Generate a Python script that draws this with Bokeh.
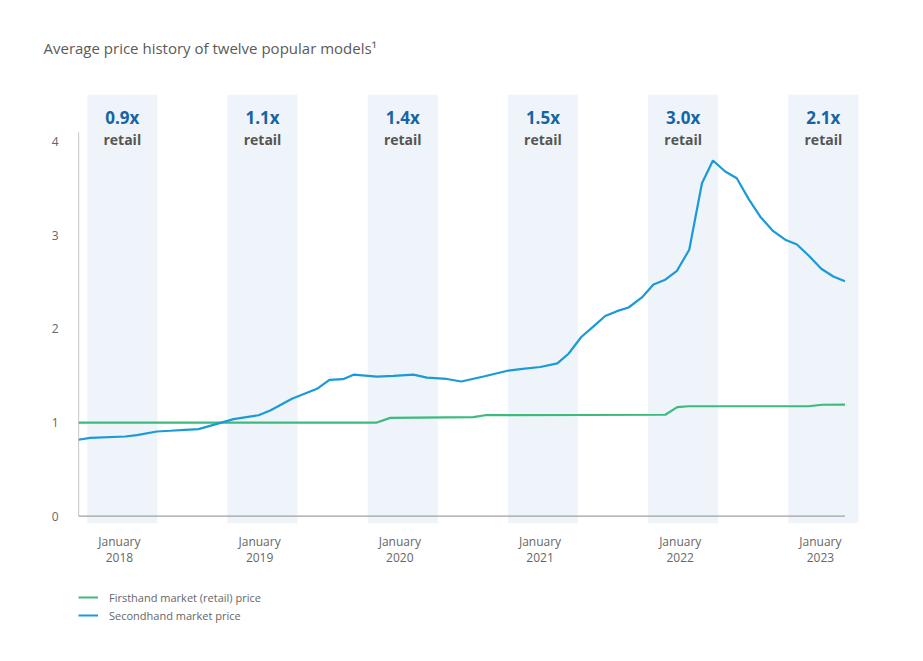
from bokeh.plotting import figure
from bokeh.layouts import column
from bokeh.models import FixedTicker, Legend, LegendItem, LinearAxis
from bokeh.core.properties import value
from bokeh.embed import file_html
from bokeh.resources import INLINE

# ---- data -------------------------------------------------------------
years = ["2018", "2019", "2020", "2021", "2022", "2023"]
multiples = ["0.9x", "1.1x", "1.4x", "1.5x", "3.0x", "2.1x"]
y_ticks = [0, 1, 2, 3, 4]
series_names = ["Firsthand market (retail) price", "Secondhand market price"]

# x = months since first observation
second_x = [0, 1.0, 4.0, 5.0, 6.71, 7.85, 9.13, 10.27, 11.85, 13.27, 15.41, 16.41,
            18.27, 20.41, 21.48, 22.63, 23.54, 25.54, 26.96, 28.67, 29.82, 31.53,
            32.76, 34.67, 36.81, 37.81, 39.52, 40.98, 41.94, 43.03, 44.08, 45.08,
            46.08, 47.08, 48.22, 49.21, 50.22, 51.22, 52.27, 53.36, 54.30, 55.35,
            56.34, 57.35, 58.39, 59.46, 60.49, 61.49, 62.53, 63.57, 64.60, 65.60]
second_y = [0.816, 0.837, 0.851, 0.865, 0.904, 0.912, 0.922, 0.929, 0.986, 1.036, 1.078, 1.128,
            1.253, 1.360, 1.456, 1.463, 1.511, 1.491, 1.499, 1.511, 1.479, 1.465,
            1.438, 1.491, 1.555, 1.571, 1.593, 1.632, 1.734, 1.913, 2.027, 2.137,
            2.189, 2.228, 2.335, 2.474, 2.525, 2.620, 2.844, 3.555, 3.797, 3.680,
            3.608, 3.388, 3.191, 3.043, 2.952, 2.901, 2.778, 2.642, 2.559, 2.508]

first_x = [0, 25.54, 26.68, 33.78, 34.81, 50.22, 51.25, 52.19, 62.46, 63.66, 65.60]
first_y = [1.0, 1.0, 1.05, 1.057, 1.078, 1.083, 1.164, 1.174, 1.174, 1.19, 1.192]

FONT = "Open Sans"
GREEN = "#3dbb7c"
BLUE = "#1a9ad6"
BAND_OFFSET = 0.75   # band (Jan-Jun) start, in months after first observation
BAND_LEN = 6
TICK_OFFSET = 3.5

p = figure(frame_width=784, frame_height=438, x_range=(0, 67.1), y_range=(-0.11, 4.566),
           output_backend="svg", toolbar_location=None,
           min_border_left=76, min_border_right=53, min_border_top=88, min_border_bottom=62)
p.outline_line_color = None
p.grid.visible = False
p.background_fill_color = "white"
p.border_fill_color = "white"

# title
p.title.text = "Average price history of twelve popular models\u00b9"
p.title.text_font = FONT
p.title.text_font_size = "15px"
p.title.text_font_style = "normal"
p.title.text_color = "#5a5a5a"
p.title.align = "left"
p.title.offset = -35
p.title.standoff = 61

# shaded bands
starts = [i * 12 + BAND_OFFSET for i in range(len(years))]
ends = [s + BAND_LEN for s in starts]
centers = [s + BAND_LEN / 2 for s in starts]
p.quad(left=starts, right=ends, bottom=-0.075, top=4.5, fill_color="#eef4f9",
       line_color=None)

p.text(x=centers, y=4.256, text=multiples, text_font=value(FONT),
       text_font_style="bold", text_font_size="17px", text_color="#1565a5",
       text_align="center", text_baseline="middle")
p.text(x=centers, y=4.02, text=["retail"] * len(years), text_font=value(FONT),
       text_font_style="bold", text_font_size="14px", text_color="#555555",
       text_align="center", text_baseline="middle")

# axis lines (custom lengths)
p.segment(x0=[0, 0], y0=[0, 0], x1=[max(second_x), 0], y1=[0, max(y_ticks) + 0.1],
          line_color="#a0a0a0", line_width=1.2)

p.line(first_x, first_y, line_color=GREEN, line_width=2.2)
p.line(second_x, second_y, line_color=BLUE, line_width=2.2)

# axes
p.yaxis.ticker = FixedTicker(ticks=y_ticks)
p.yaxis.axis_line_color = None
p.yaxis.major_tick_line_color = None
p.yaxis.minor_tick_line_color = None
p.yaxis.major_label_standoff = 14
p.yaxis.major_label_text_font = FONT
p.yaxis.major_label_text_font_size = "12px"
p.yaxis.major_label_text_color = "#666666"

xt = [i * 12 + TICK_OFFSET for i in range(len(years))]


def style_x(ax, standoff):
    ax.ticker = FixedTicker(ticks=xt)
    ax.axis_line_color = None
    ax.major_tick_line_color = None
    ax.minor_tick_line_color = None
    ax.major_label_standoff = standoff
    ax.major_label_text_font = FONT
    ax.major_label_text_font_size = "12px"
    ax.major_label_text_color = "#666666"


style_x(p.xaxis[0], 0)
p.xaxis[0].major_label_overrides = {t: "January" for t in xt}
year_axis = LinearAxis()
style_x(year_axis, -6)
year_axis.major_label_overrides = {t: y for t, y in zip(xt, years)}
p.add_layout(year_axis, "below")

# legend strip underneath (series re-drawn off-range so only the legend swatches show)
q = figure(width=913, height=56, x_range=(0, 1), y_range=(10, 11),
           output_backend="svg", toolbar_location=None,
           min_border_left=78, min_border_right=0, min_border_top=0, min_border_bottom=0)
q.axis.visible = False
q.grid.visible = False
q.outline_line_color = None
lg = q.line(first_x, first_y, line_color=GREEN, line_width=2)
lb = q.line(second_x, second_y, line_color=BLUE, line_width=2)
legend = Legend(items=[LegendItem(label=series_names[0], renderers=[lg]),
                       LegendItem(label=series_names[1], renderers=[lb])],
                location="top_left", orientation="vertical",
                label_text_font=FONT, label_text_font_size="11px",
                label_text_color="#666666", glyph_width=20, glyph_height=18,
                label_height=18, label_standoff=11, spacing=0, padding=0, margin=0,
                border_line_color=None, background_fill_alpha=0)
q.add_layout(legend)

layout = column(p, q, spacing=0)
open("out.html", "w").write(file_html(layout, INLINE))
